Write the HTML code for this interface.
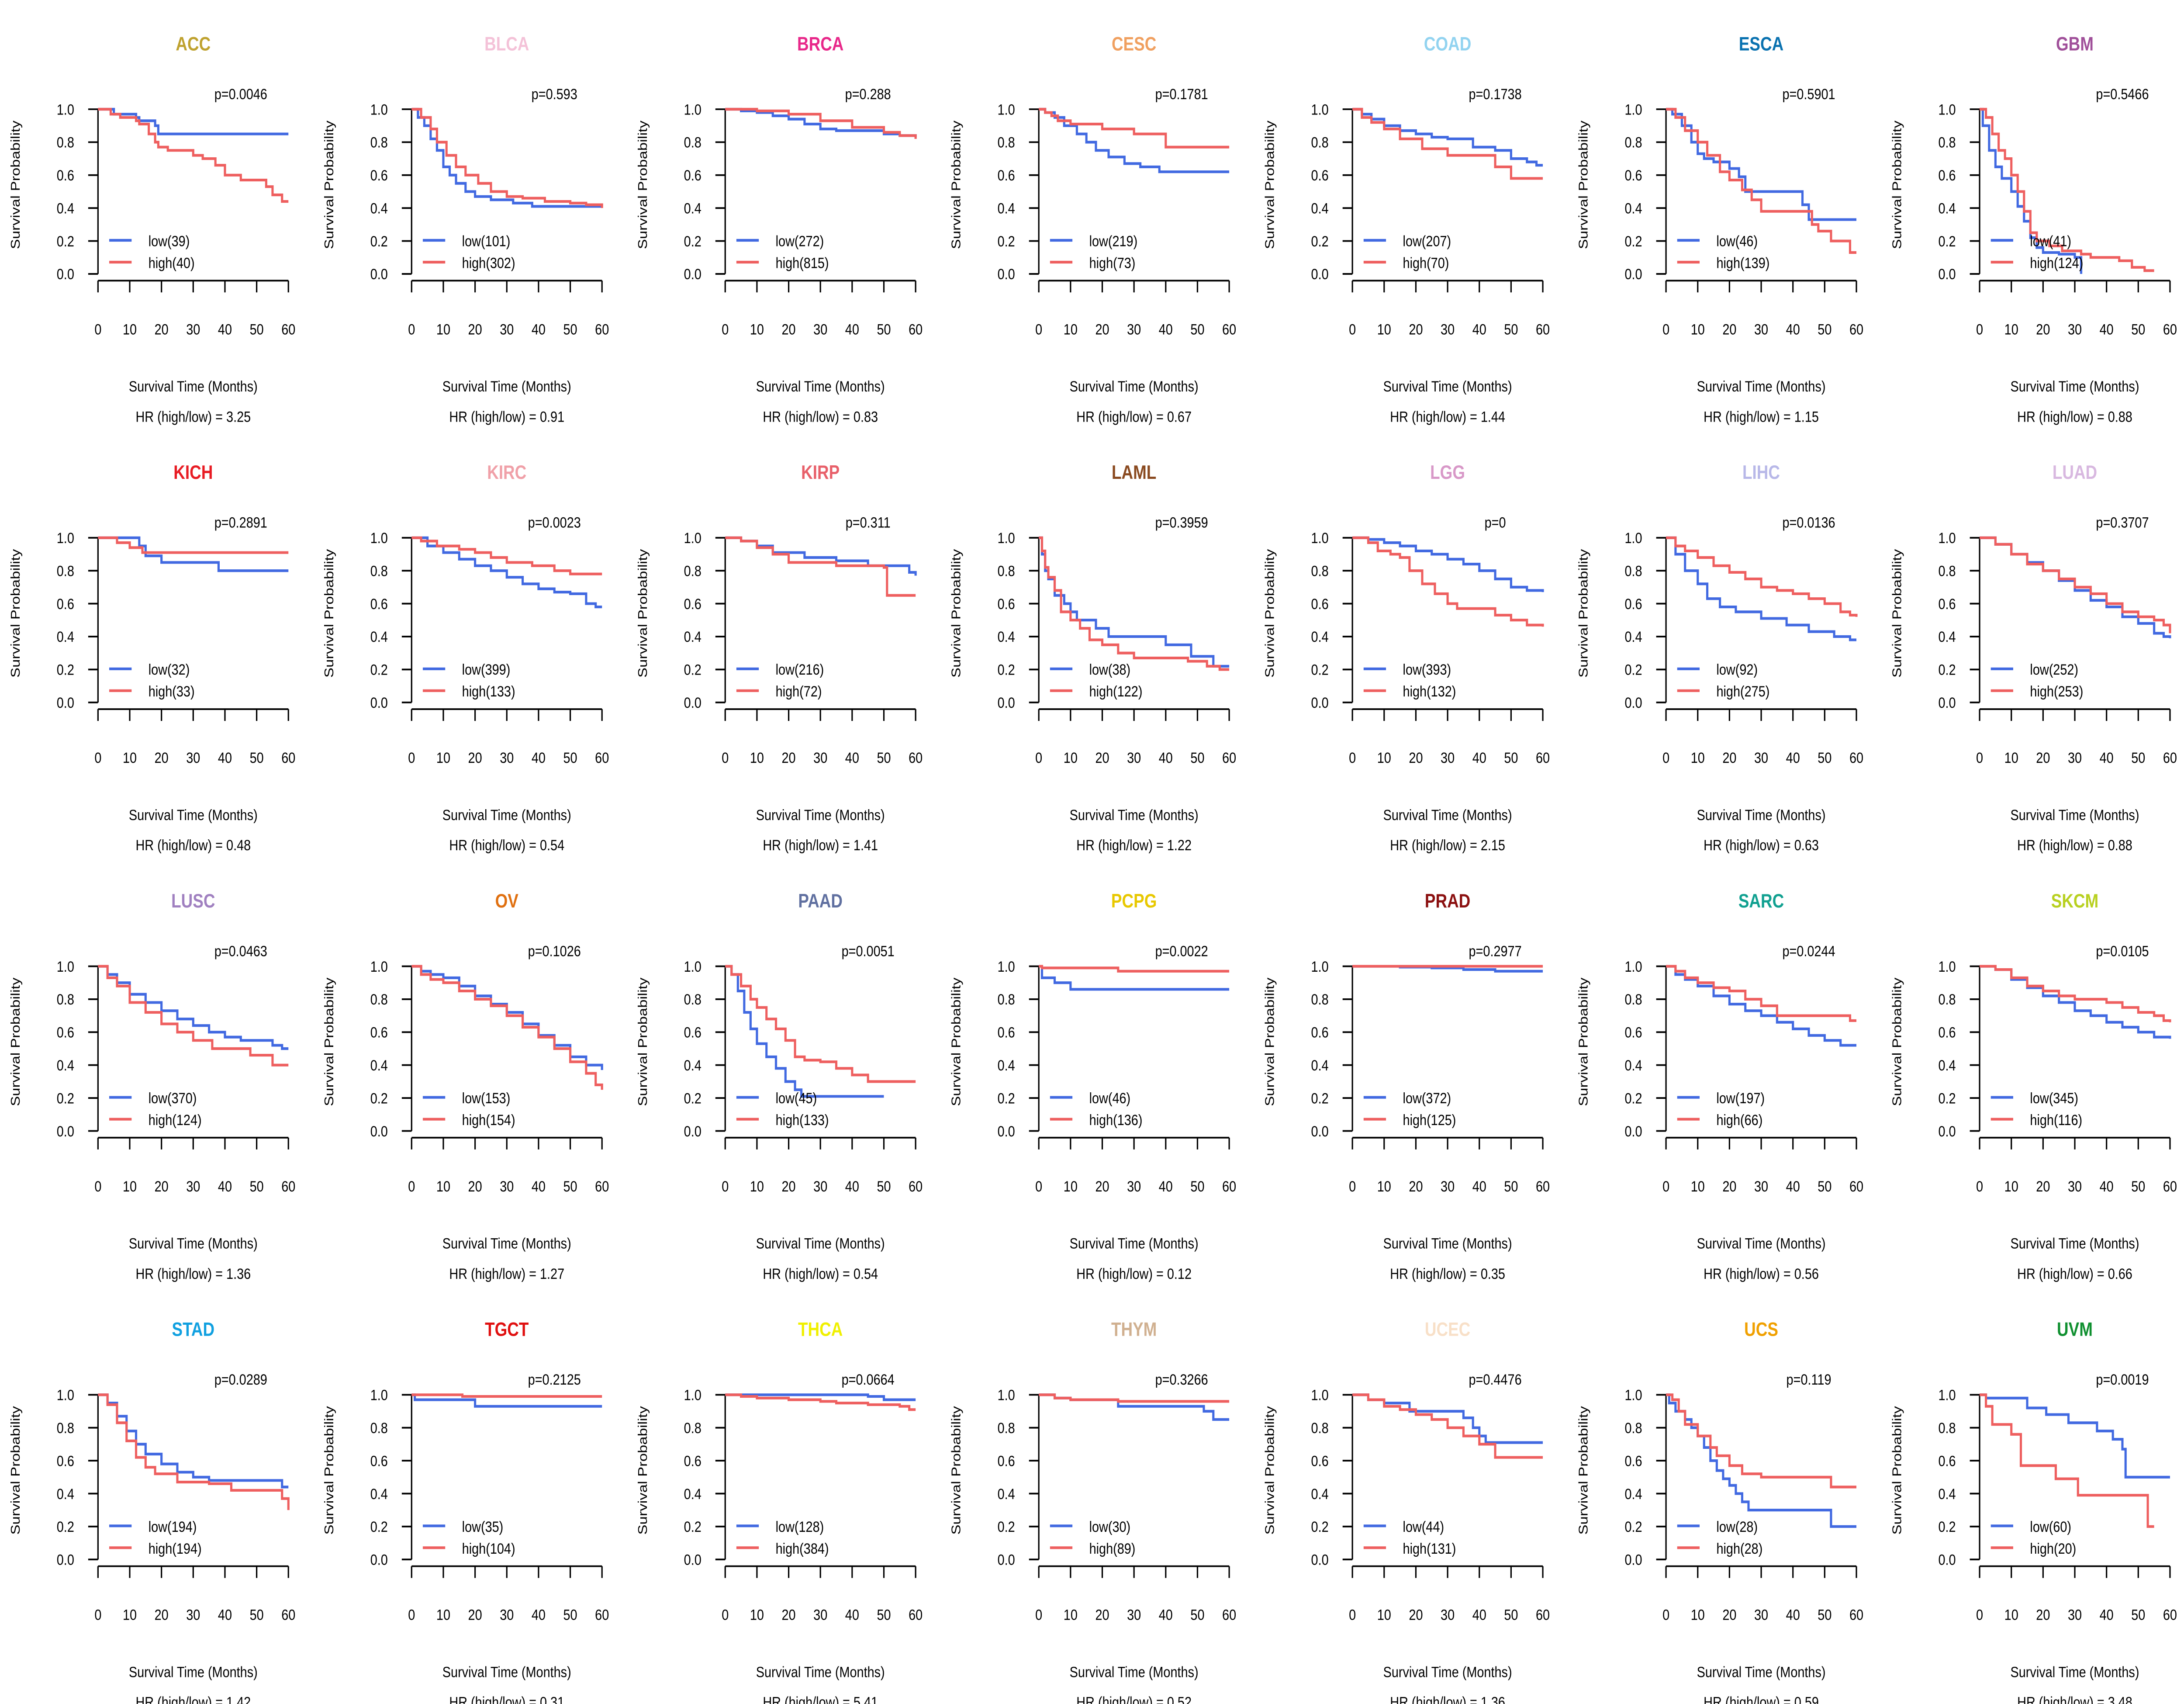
<!DOCTYPE html>
<html><head><meta charset="utf-8"><style>
html,body{margin:0;padding:0;background:#fff;overflow:hidden;width:100%;height:100%;}
svg{display:block;width:100vw;height:100vh;overflow:visible;font-family:"Liberation Sans",Arial,sans-serif;}
</style></head><body>
<svg id="chart" viewBox="0 0 1560 1014" preserveAspectRatio="none" xmlns="http://www.w3.org/2000/svg"></svg>
<script>
const cancers=["ACC","BLCA","BRCA","CESC","COAD","ESCA","GBM","KICH","KIRC","KIRP","LAML","LGG","LIHC","LUAD","LUSC","OV","PAAD","PCPG","PRAD","SARC","SKCM","STAD","TGCT","THCA","THYM","UCEC","UCS","UVM"];
const titleColors=["#BFA22F","#F4C2D8","#E8288A","#F0A060","#92D3F0","#0A72B0","#A0509A","#E81C24","#F0A0A8","#E8606A","#8A4A20","#D898C8","#B8B8E8","#D8B8E0","#A080C0","#E07010","#6070A0","#E8C800","#8B1010","#10A090","#B8D020","#10A0E0","#E01010","#F0F000","#D0B090","#F8E0C8","#F0A000","#109030"];
const pvals=["0.0046","0.593","0.288","0.1781","0.1738","0.5901","0.5466","0.2891","0.0023","0.311","0.3959","0","0.0136","0.3707","0.0463","0.1026","0.0051","0.0022","0.2977","0.0244","0.0105","0.0289","0.2125","0.0664","0.3266","0.4476","0.119","0.0019"];
const hrs=["3.25","0.91","0.83","0.67","1.44","1.15","0.88","0.48","0.54","1.41","1.22","2.15","0.63","0.88","1.36","1.27","0.54","0.12","0.35","0.56","0.66","1.42","0.31","5.41","0.52","1.36","0.59","3.48"];
const nLow=[39,101,272,219,207,46,41,32,399,216,38,393,92,252,370,153,45,46,372,197,345,194,35,128,30,44,28,60];
const nHigh=[40,302,815,73,70,139,124,33,133,72,122,132,275,253,124,154,133,136,125,66,116,194,104,384,89,131,28,20];
const lowCurves=[
[[5,.97],[12,.95],[13,.93],[18,.9],[19,.85],[60,.85]],
[[2,.95],[4,.9],[6,.82],[8,.75],[10,.65],[12,.6],[14,.55],[17,.5],[20,.47],[25,.45],[32,.43],[38,.41],[60,.41]],
[[5,.99],[10,.98],[15,.96],[20,.94],[25,.91],[30,.88],[35,.87],[45,.87],[50,.85],[55,.84],[60,.83]],
[[2,.98],[5,.95],[8,.9],[12,.85],[15,.8],[18,.75],[22,.71],[27,.67],[32,.65],[38,.62],[60,.62]],
[[3,.97],[6,.94],[10,.9],[15,.87],[20,.85],[25,.83],[30,.82],[38,.77],[45,.75],[50,.7],[55,.68],[58,.66],[60,.66]],
[[2,.97],[5,.9],[8,.8],[10,.73],[12,.7],[15,.68],[20,.64],[23,.59],[25,.5],[40,.5],[43,.42],[45,.33],[60,.33]],
[[1,.9],[3,.75],[5,.65],[7,.58],[10,.5],[12,.41],[14,.32],[16,.22],[18,.16],[20,.13],[25,.12],[30,.1],[32,0]],
[[13,.95],[15,.89],[20,.85],[38,.8],[60,.8]],
[[5,.95],[10,.91],[15,.87],[20,.83],[25,.8],[30,.76],[35,.72],[40,.69],[45,.67],[50,.66],[55,.6],[58,.58],[60,.58]],
[[5,.98],[10,.95],[15,.91],[25,.88],[35,.86],[45,.83],[58,.79],[60,.77]],
[[1,.9],[2,.8],[3,.75],[5,.65],[8,.6],[10,.55],[12,.5],[18,.45],[22,.4],[30,.4],[40,.35],[48,.28],[55,.22],[60,.22]],
[[5,.99],[10,.97],[15,.95],[20,.92],[25,.9],[30,.87],[35,.84],[40,.8],[45,.75],[50,.7],[55,.68],[60,.67]],
[[3,.9],[6,.8],[10,.72],[13,.63],[17,.58],[22,.55],[30,.51],[38,.47],[45,.43],[53,.4],[58,.38],[60,.38]],
[[5,.96],[10,.9],[15,.85],[20,.8],[25,.74],[30,.68],[35,.62],[40,.58],[45,.52],[50,.48],[55,.42],[58,.4],[60,.39]],
[[3,.95],[6,.9],[10,.83],[15,.78],[20,.73],[25,.68],[30,.64],[35,.6],[40,.57],[45,.55],[55,.52],[58,.5],[60,.5]],
[[3,.97],[6,.95],[10,.93],[15,.88],[20,.82],[25,.77],[30,.72],[35,.65],[40,.58],[45,.52],[50,.45],[55,.4],[60,.37]],
[[2,.95],[4,.85],[6,.72],[8,.62],[10,.53],[13,.45],[16,.38],[19,.3],[22,.25],[24,.21],[50,.21]],
[[1,.93],[5,.9],[10,.86],[60,.86]],
[[15,.995],[25,.99],[35,.98],[45,.97],[60,.97]],
[[3,.95],[6,.92],[10,.88],[15,.82],[20,.77],[25,.73],[30,.7],[35,.66],[40,.62],[45,.58],[50,.55],[55,.52],[60,.52]],
[[5,.98],[10,.92],[15,.87],[20,.82],[25,.78],[30,.73],[35,.7],[40,.66],[45,.63],[50,.6],[55,.57],[60,.56]],
[[3,.95],[6,.87],[9,.78],[12,.7],[15,.64],[20,.58],[25,.53],[30,.5],[35,.48],[55,.48],[58,.44],[60,.44]],
[[1,.97],[20,.93],[60,.93]],
[[45,.99],[50,.97],[60,.97]],
[[5,.98],[10,.97],[25,.93],[52,.9],[55,.85],[60,.85]],
[[5,.97],[10,.95],[18,.9],[35,.86],[38,.8],[40,.75],[42,.71],[60,.71]],
[[1,.95],[3,.9],[6,.85],[8,.8],[10,.75],[12,.68],[14,.6],[16,.54],[18,.49],[20,.45],[22,.4],[24,.35],[26,.3],[50,.3],[52,.2],[60,.2]],
[[2,.98],[15,.92],[21,.88],[28,.83],[37,.78],[42,.73],[45,.67],[46,.5],[60,.5]]
];
const highCurves=[
[[4,.97],[7,.95],[12,.93],[13,.91],[16,.85],[18,.8],[19,.77],[22,.75],[30,.72],[33,.7],[37,.66],[40,.6],[45,.57],[53,.53],[55,.48],[58,.44],[60,.44]],
[[3,.95],[6,.88],[8,.8],[11,.72],[14,.65],[17,.6],[21,.55],[25,.5],[30,.47],[35,.46],[42,.44],[50,.43],[55,.42],[60,.4]],
[[10,.99],[20,.97],[30,.93],[40,.89],[50,.86],[55,.84],[60,.82]],
[[2,.98],[4,.96],[6,.93],[10,.91],[20,.88],[30,.85],[40,.77],[60,.77]],
[[3,.95],[6,.92],[10,.88],[15,.82],[22,.76],[30,.72],[45,.65],[50,.58],[60,.58]],
[[3,.95],[6,.87],[10,.8],[13,.72],[17,.62],[20,.57],[24,.51],[27,.45],[30,.38],[44,.38],[46,.3],[48,.26],[52,.2],[58,.13],[60,.13]],
[[2,.95],[4,.85],[6,.75],[8,.7],[10,.6],[12,.5],[14,.38],[16,.25],[18,.2],[22,.17],[26,.14],[32,.12],[35,.1],[44,.08],[48,.04],[52,.02],[55,.02]],
[[6,.97],[10,.94],[14,.91],[60,.91]],
[[3,.98],[8,.95],[15,.93],[20,.91],[25,.88],[30,.85],[38,.83],[45,.8],[50,.78],[60,.78]],
[[5,.98],[10,.94],[15,.9],[20,.85],[35,.83],[50,.82],[51,.65],[60,.65]],
[[1,.92],[2,.82],[3,.76],[5,.68],[7,.55],[10,.5],[13,.45],[16,.38],[20,.35],[25,.3],[30,.27],[47,.25],[53,.22],[57,.2],[60,.2]],
[[5,.97],[8,.92],[12,.9],[15,.88],[18,.8],[22,.72],[26,.66],[30,.6],[33,.57],[40,.57],[45,.53],[50,.5],[55,.47],[60,.46]],
[[3,.95],[6,.92],[10,.88],[15,.83],[20,.79],[25,.75],[30,.7],[35,.68],[40,.66],[45,.63],[50,.6],[55,.55],[58,.53],[60,.52]],
[[5,.96],[10,.9],[15,.84],[20,.8],[25,.75],[30,.7],[35,.66],[40,.6],[45,.55],[50,.52],[55,.5],[58,.47],[60,.42]],
[[3,.93],[6,.88],[10,.78],[15,.72],[20,.65],[25,.6],[30,.55],[36,.5],[48,.46],[55,.4],[60,.4]],
[[3,.95],[6,.92],[10,.9],[15,.85],[20,.8],[25,.76],[30,.7],[35,.63],[40,.57],[45,.5],[50,.42],[55,.35],[58,.28],[60,.25]],
[[2,.95],[5,.88],[8,.8],[10,.75],[13,.68],[16,.62],[19,.55],[22,.45],[25,.43],[30,.42],[35,.38],[40,.34],[45,.3],[60,.3]],
[[1,.99],[25,.97],[60,.97]],
[[60,1.0]],
[[3,.97],[6,.93],[10,.9],[15,.87],[20,.85],[25,.8],[30,.76],[35,.7],[55,.7],[58,.67],[60,.67]],
[[5,.98],[10,.93],[15,.88],[20,.85],[25,.82],[30,.8],[40,.78],[45,.75],[50,.72],[55,.7],[58,.67],[60,.66]],
[[3,.94],[6,.83],[9,.72],[12,.62],[15,.56],[18,.52],[25,.47],[35,.46],[42,.42],[58,.37],[60,.3]],
[[16,.99],[60,.99]],
[[5,.99],[10,.98],[20,.97],[30,.96],[35,.95],[45,.94],[55,.93],[58,.91],[60,.91]],
[[5,.98],[10,.97],[25,.96],[60,.96]],
[[5,.97],[10,.93],[15,.91],[20,.88],[25,.85],[30,.8],[35,.75],[40,.7],[45,.62],[60,.62]],
[[2,.97],[4,.9],[6,.82],[10,.75],[14,.68],[16,.63],[20,.57],[24,.52],[30,.5],[50,.5],[52,.44],[60,.44]],
[[2,.93],[4,.82],[10,.76],[13,.57],[24,.49],[31,.39],[52,.39],[53,.2],[55,.2]]
];
const xTicks=[0,10,20,30,40,50,60];
const yTicks=[0,0.2,0.4,0.6,0.8,1.0];

const NS="http://www.w3.org/2000/svg";
const svg=document.getElementById('chart');
function mk(tag,attrs,parent){const e=document.createElementNS(NS,tag);for(const k in attrs)e.setAttribute(k,attrs[k]);parent.appendChild(e);return e;}
function txt(s,attrs,parent){const e=mk('text',attrs,parent);e.textContent=s;return e;}

cancers.forEach((name,i)=>{
  const col=i%7,row=Math.floor(i/7);
  const ox=col*224,oy=row*255;
  const X0=ox+70,X1=ox+206,Y1=oy+65,Y0=oy+163;
  const xs=t=>X0+(X1-X0)*t/60;
  const ys=s=>Y0-(Y0-Y1)*s;
  const g=mk('g',{},svg);
  
  
  const t=txt(name,{x:ox+138,y:oy+30,'text-anchor':'middle','font-size':11.5,'font-weight':'bold',fill:titleColors[i]},g);
  
  
  const p=txt('p='+pvals[i],{x:ox+172,y:oy+59,'text-anchor':'middle','font-size':9},g);
  
  
  const ya=mk('g',{},g);
  
  
  mk('line',{x1:X0,y1:Y1,x2:X0,y2:Y0,stroke:'#000','stroke-width':1},ya);
  yTicks.forEach(v=>{
    mk('line',{x1:X0-7,y1:ys(v),x2:X0,y2:ys(v),stroke:'#000','stroke-width':1},ya);
    const l=txt(v.toFixed(1),{x:ox+53,y:ys(v)+3.2,'text-anchor':'end','font-size':9},ya);
    
    
  });
  const yt=txt('Survival Probability',{x:0,y:0,'text-anchor':'middle','font-size':9,transform:`translate(${ox+14},${oy+110}) rotate(-90)`},g);
  
  
  const xa=mk('g',{},g);
  
  
  mk('line',{x1:X0,y1:oy+167,x2:X1,y2:oy+167,stroke:'#000','stroke-width':1},xa);
  xTicks.forEach(v=>{
    mk('line',{x1:xs(v),y1:oy+167,x2:xs(v),y2:oy+174,stroke:'#000','stroke-width':1},xa);
    const l=txt(String(v),{x:xs(v),y:oy+199,'text-anchor':'middle','font-size':9},xa);
    
    
  });
  const xt=txt('Survival Time (Months)',{x:ox+138,y:oy+233,'text-anchor':'middle','font-size':9},g);
  
  
  const hr=txt('HR (high/low) =  '+hrs[i],{x:ox+138,y:oy+251,'text-anchor':'middle','font-size':9,'xml:space':'preserve'},g);
  
  
  function curve(pts,color,nm){
    let d=`M${xs(0)},${ys(1)}`;
    pts.forEach(([tt,s])=>{d+=` H${xs(tt).toFixed(2)} V${ys(s).toFixed(2)}`;});
    const c=mk('path',{d:d,fill:'none',stroke:color,'stroke-width':1.6},g);
    
    
  }
  curve(lowCurves[i],'#4169E1','low-curve');
  curve(highCurves[i],'#EE5F5F','high-curve');
  const lg=mk('g',{},g);
  
  
  mk('line',{x1:ox+78,y1:oy+143,x2:ox+94,y2:oy+143,stroke:'#4169E1','stroke-width':1.6},lg);
  mk('line',{x1:ox+78,y1:oy+156,x2:ox+94,y2:oy+156,stroke:'#EE5F5F','stroke-width':1.6},lg);
  const l1=txt('low('+nLow[i]+')',{x:ox+106,y:oy+146.5,'font-size':9},lg);
  
  
  const l2=txt('high('+nHigh[i]+')',{x:ox+106,y:oy+159.5,'font-size':9},lg);
  
  
});
</script>
</body></html>
